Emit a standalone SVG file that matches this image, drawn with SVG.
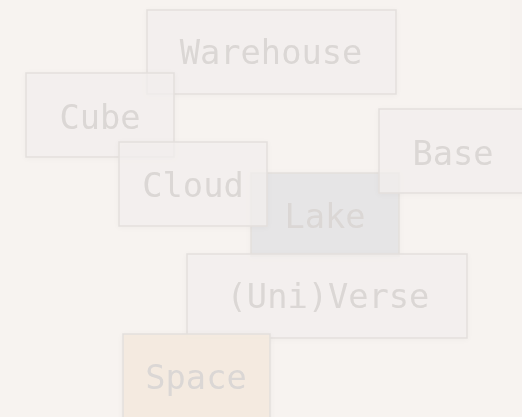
<svg xmlns="http://www.w3.org/2000/svg" width="522" height="417" viewBox="0 0 522 417">
<defs>
<filter id="sh" x="-20%" y="-20%" width="140%" height="140%">
<feGaussianBlur in="SourceAlpha" stdDeviation="3"/>
<feOffset dx="0" dy="1"/>
<feComponentTransfer><feFuncA type="linear" slope="0.04"/></feComponentTransfer>
<feMerge><feMergeNode/><feMergeNode in="SourceGraphic"/></feMerge>
</filter>
</defs>
<style>
.box{fill:#f3efee;fill-opacity:0.75;stroke:#e3dfdd;stroke-width:1.5}
.lake{fill:#e4e4e6;fill-opacity:0.9}
.space{fill:#f3eadf;fill-opacity:0.95}
text{font-family:"DejaVu Sans Mono","Liberation Mono",monospace;font-size:33.7px;fill:#dbd7d5;text-anchor:middle}
</style>
<rect width="522" height="417" fill="#f7f3f0"/>
<rect x="510" y="-10" width="30" height="110" fill="#f5f1ef" opacity="0.6"/>
<g id="connectors"/>
<g id="lake" filter="url(#sh)"><rect class="box lake" x="251" y="173" width="148" height="83"/><text x="325" y="228">Lake</text></g>
<g id="warehouse" filter="url(#sh)"><rect class="box" x="147" y="10" width="249" height="84"/><text x="271" y="64">Warehouse</text></g>
<g id="cube" filter="url(#sh)"><rect class="box" x="26" y="73" width="148" height="84"/><text x="100" y="129">Cube</text></g>
<g id="cloud" filter="url(#sh)"><rect class="box" x="119" y="142" width="148" height="84"/><text x="193" y="197">Cloud</text></g>
<g id="base" filter="url(#sh)"><rect class="box" x="379" y="109" width="148" height="84"/><text x="453" y="165">Base</text></g>
<g id="universe" filter="url(#sh)"><rect class="box" x="187" y="254" width="280" height="84"/><text x="328" y="308">(Uni)Verse</text></g>
<g id="space" filter="url(#sh)"><rect class="box space" x="123" y="334" width="147" height="95"/><text x="196" y="389">Space</text></g>
</svg>
